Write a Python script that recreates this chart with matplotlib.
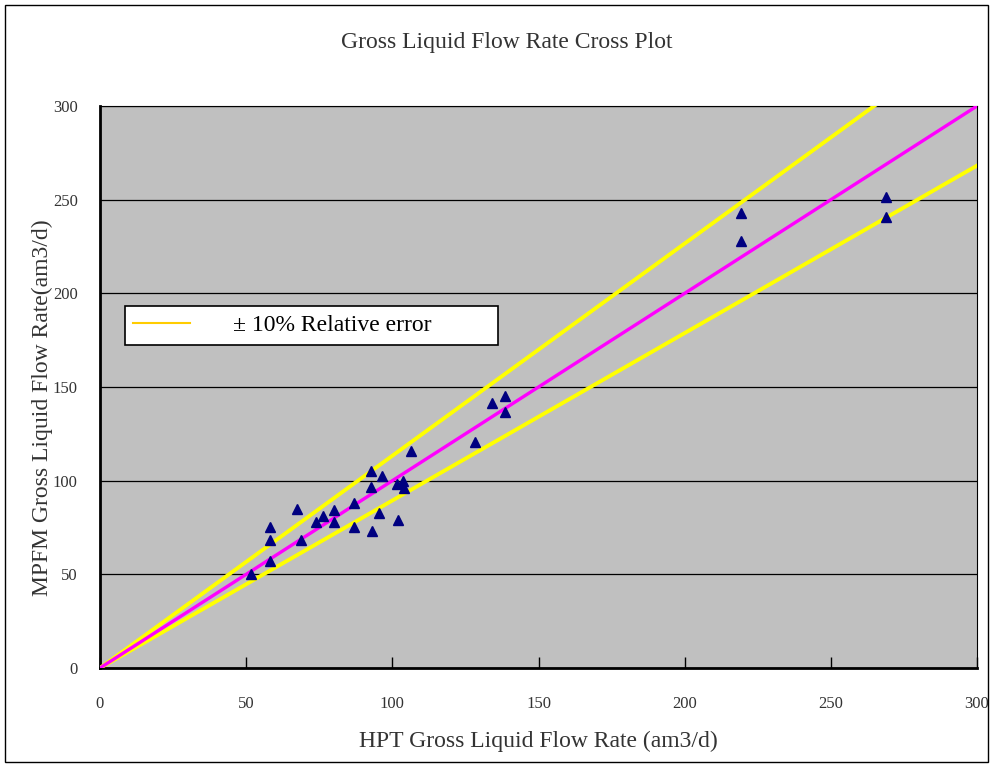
import numpy as np
import matplotlib
matplotlib.use("Agg")
from matplotlib import pyplot as plt
from matplotlib.patches import Rectangle

# HPT reference flow (x) vs MPFM measured flow (y), am3/d
hpt = [51.7, 58.2, 58.2, 58.2, 67.4, 68.8, 73.9, 76.3, 80.0, 80.0,
       86.9, 86.9, 92.7, 92.7, 93.0, 95.4, 96.5, 101.6, 101.9, 103.7,
       104.0, 106.4, 128.3, 134.1, 138.6, 138.6, 219.3, 219.3, 268.9, 268.9]
mpfm = [50.2, 75.3, 68.3, 57.1, 84.9, 68.3, 77.9, 81.2, 84.4, 78.0,
        88.1, 75.3, 105.2, 96.6, 73.1, 82.8, 102.5, 98.2, 79.0, 99.8,
        96.1, 115.9, 120.7, 141.5, 145.2, 136.7, 242.9, 228.0, 251.5, 240.8]

line_x = [0, 300]
upper_slope = 1.133
lower_slope = 0.894
ticks = [0, 50, 100, 150, 200, 250, 300]

font = 'Liberation Serif'
txt_col = '#333333'

fig = plt.figure(figsize=(9.93, 7.65), dpi=100)
ax = fig.add_axes([0.1007, 0.1268, 0.8832, 0.7346])
ax.set_facecolor('#C0C0C0')

# outer frame of the chart area
fig.patches.append(Rectangle((0.005, 0.004), 0.99, 0.99, transform=fig.transFigure,
                             fill=False, edgecolor='black', lw=1.0))

ax.plot(line_x, [upper_slope * v for v in line_x], color='#FFFF00', lw=2.8, zorder=3)
ax.plot(line_x, [lower_slope * v for v in line_x], color='#FFFF00', lw=2.8, zorder=3)
ax.plot(line_x, line_x, color='#FF00FF', lw=2.4, zorder=4)
ax.plot(hpt, mpfm, linestyle='none', marker='^', color='#000080',
        markersize=7, zorder=5)

ax.set_xlim(0, 300)
ax.set_ylim(0, 300)
ax.set_xticks(ticks)
ax.set_yticks(ticks)
ax.grid(axis='y', color='black', lw=0.9)
ax.set_axisbelow(True)
ax.tick_params(axis='x', direction='in', length=8, width=1, pad=20, labelsize=12)
ax.tick_params(axis='y', direction='in', length=0, pad=16, labelsize=12)
for lab in ax.get_xticklabels() + ax.get_yticklabels():
    lab.set_family(font)
    lab.set_color(txt_col)

for s in ['left', 'bottom']:
    ax.spines[s].set_linewidth(2)
for s in ['top', 'right']:
    ax.spines[s].set_linewidth(0.8)

ax.set_xlabel('HPT Gross Liquid Flow Rate (am3/d)', family=font, fontsize=17,
              color=txt_col, labelpad=14)
ax.set_ylabel('MPFM Gross Liquid Flow Rate(am3/d)', family=font, fontsize=17,
              color=txt_col, labelpad=4)
ax.yaxis.set_label_coords(-0.054, 0.464)
fig.text(0.51, 0.945, 'Gross Liquid Flow Rate Cross Plot', family=font,
         fontsize=17, color=txt_col, ha='center', va='center')

leg = ax.legend([plt.Line2D([0], [0], color='#FFCC00', lw=1.5)],
                ['\u00b1 10% Relative error          '],
                loc='upper left', bbox_to_anchor=(0.0285, 0.644),
                borderaxespad=0, frameon=True, fancybox=False,
                handlelength=2.4, handletextpad=1.8, borderpad=0.36,
                prop={'family': font, 'size': 17})
leg.get_frame().set_edgecolor('black')
leg.get_frame().set_linewidth(1.2)
leg.get_frame().set_facecolor('white')
leg.get_frame().set_alpha(1)

fig.savefig('out.png', dpi=100)
